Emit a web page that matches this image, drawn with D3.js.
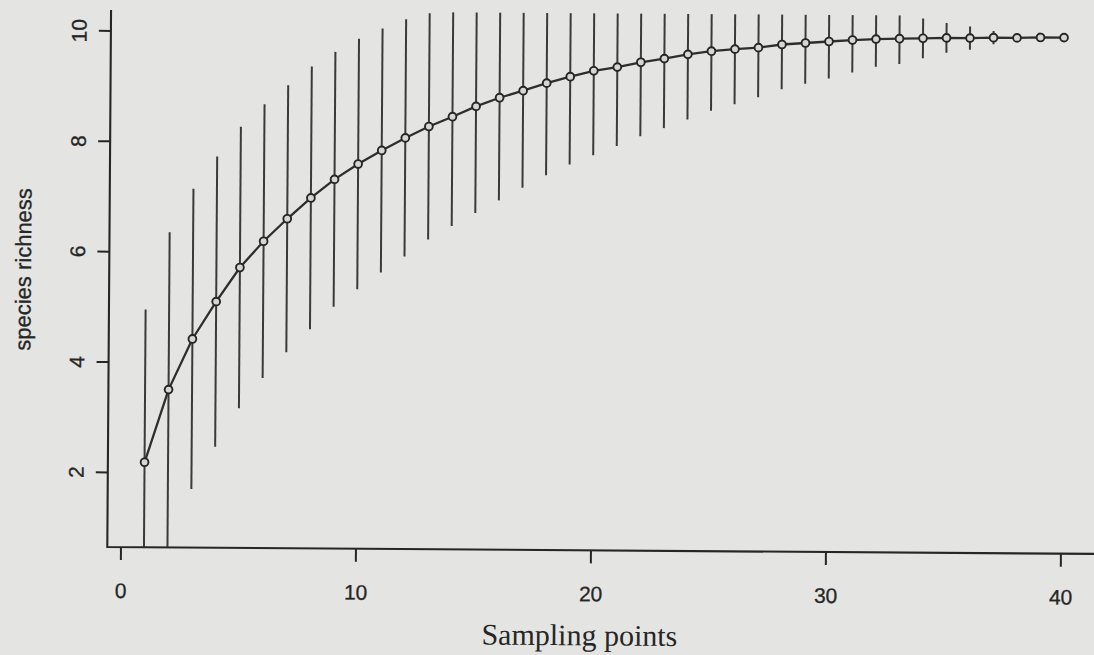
<!DOCTYPE html>
<html>
<head>
<meta charset="utf-8">
<script src="https://cdn.jsdelivr.net/npm/d3@7"></script>
<style>
  html, body { margin: 0; padding: 0; background: #e4e4e2; }
  svg { display: block; }
</style>
</head>
<body>
<svg id="chart" width="1094" height="655"></svg>
<script>
// ---- data ----
const samplingPoints = d3.range(1, 41);
const richnessMean = [
  2.18, 3.50, 4.42, 5.10, 5.72, 6.20, 6.61, 6.99, 7.33, 7.61,
  7.86, 8.09, 8.30, 8.48, 8.67, 8.83, 8.96, 9.10, 9.22, 9.33,
  9.40, 9.49, 9.56, 9.64, 9.70, 9.74, 9.77, 9.83, 9.86, 9.89,
  9.92, 9.94, 9.95, 9.96, 9.97, 9.97, 9.98, 9.98, 9.99, 9.99
];
const richnessSD = [
  2.77, 2.85, 2.72, 2.63, 2.55, 2.48, 2.42, 2.38, 2.31, 2.27,
  2.21, 2.15, 2.05, 1.98, 1.93, 1.86, 1.76, 1.67, 1.59, 1.53,
  1.43, 1.34, 1.26, 1.18, 1.08, 1.00, 0.90, 0.81, 0.74, 0.67,
  0.59, 0.50, 0.46, 0.36, 0.27, 0.21, 0.12, 0.05, 0.00, 0.00
];
const xTicks = [0, 10, 20, 30, 40];
const yTicks = [2, 4, 6, 8, 10];
const xTitle = "Sampling points";
const yTitle = "species richness";

const data = samplingPoints.map((p, i) => ({ x: p, m: richnessMean[i], sd: richnessSD[i] }));

// ---- layout ----
(function draw() {
const svg = d3.select("#chart");
const ink = "#262626";
const pLeft = 107.3, pBottom = 547, pTop = 10, pRight = 1097.1;

svg.append("rect").attr("width", 1094).attr("height", 655).attr("fill", "#e4e4e2");

// slight scan tilt
const g = svg.append("g").attr("transform", `rotate(0.4, ${pLeft}, ${pBottom})`);

const x = d3.scaleLinear().domain([-0.56, 41.56]).range([pLeft, pRight]);
const y = d3.scaleLinear().domain([0.64, 10.37]).range([pBottom, pTop]);

g.append("clipPath").attr("id", "plotclip")
  .append("rect").attr("x", pLeft).attr("y", pTop)
  .attr("width", 1200).attr("height", pBottom - pTop);

const plot = g.append("g").attr("clip-path", "url(#plotclip)");

// error bars
plot.selectAll("line.err").data(data).join("line")
  .attr("class", "err")
  .attr("x1", d => x(d.x)).attr("x2", d => x(d.x))
  .attr("y1", d => y(d.m - d.sd)).attr("y2", d => y(d.m + d.sd))
  .attr("stroke", "#3a3a3a").attr("stroke-width", 2);

// curve
plot.append("path").datum(data)
  .attr("fill", "none").attr("stroke", "#2e2e2e").attr("stroke-width", 2.3)
  .attr("d", d3.line().x(d => x(d.x)).y(d => y(d.m)));

// points
plot.selectAll("circle.pt").data(data).join("circle")
  .attr("class", "pt")
  .attr("cx", d => x(d.x)).attr("cy", d => y(d.m)).attr("r", 3.9)
  .attr("fill", "#d6d6d4").attr("stroke", "#262626").attr("stroke-width", 1.9);

// box (L shape)
g.append("path")
  .attr("d", `M${pLeft},${pTop}V${pBottom}H1200`)
  .attr("fill", "none").attr("stroke", ink).attr("stroke-width", 2.1);

const sans = "'Liberation Sans', Arial, sans-serif";

// x axis
const xAxis = g.append("g").attr("transform", `translate(0,${pBottom})`)
  .call(d3.axisBottom(x).tickValues(xTicks).tickSize(13).tickPadding(23).tickFormat(d3.format("d")));
xAxis.select(".domain").remove();
xAxis.selectAll(".tick line").attr("stroke", ink).attr("stroke-width", 2);
xAxis.selectAll(".tick text")
  .attr("fill", ink).attr("stroke", ink).attr("stroke-width", 0.3)
  .style("font-family", sans).style("font-size", "21px");

// y axis
const yAxis = g.append("g").attr("transform", `translate(${pLeft},0)`)
  .call(d3.axisLeft(y).tickValues(yTicks).tickSize(12).tickFormat(d3.format("d")));
yAxis.select(".domain").remove();
yAxis.selectAll(".tick line").attr("stroke", ink).attr("stroke-width", 2);
yAxis.selectAll(".tick text")
  .attr("fill", ink).attr("stroke", ink).attr("stroke-width", 0.3)
  .attr("x", null).attr("dy", null)
  .attr("text-anchor", "middle")
  .attr("transform", `translate(${83 - pLeft},0) rotate(-90)`)
  .style("font-family", sans).style("font-size", "21px");

// titles
g.append("text")
  .attr("transform", "translate(29,270) rotate(-90)")
  .attr("text-anchor", "middle").attr("fill", ink).attr("stroke", ink).attr("stroke-width", 0.3)
  .style("font-family", sans).style("font-size", "22px")
  .text(yTitle);

g.append("text")
  .attr("x", 580).attr("y", 642)
  .attr("text-anchor", "middle").attr("fill", ink)
  .style("font-family", "'Liberation Serif', 'Times New Roman', serif").style("font-size", "30px")
  .text(xTitle);
})();
</script>
</body>
</html>
